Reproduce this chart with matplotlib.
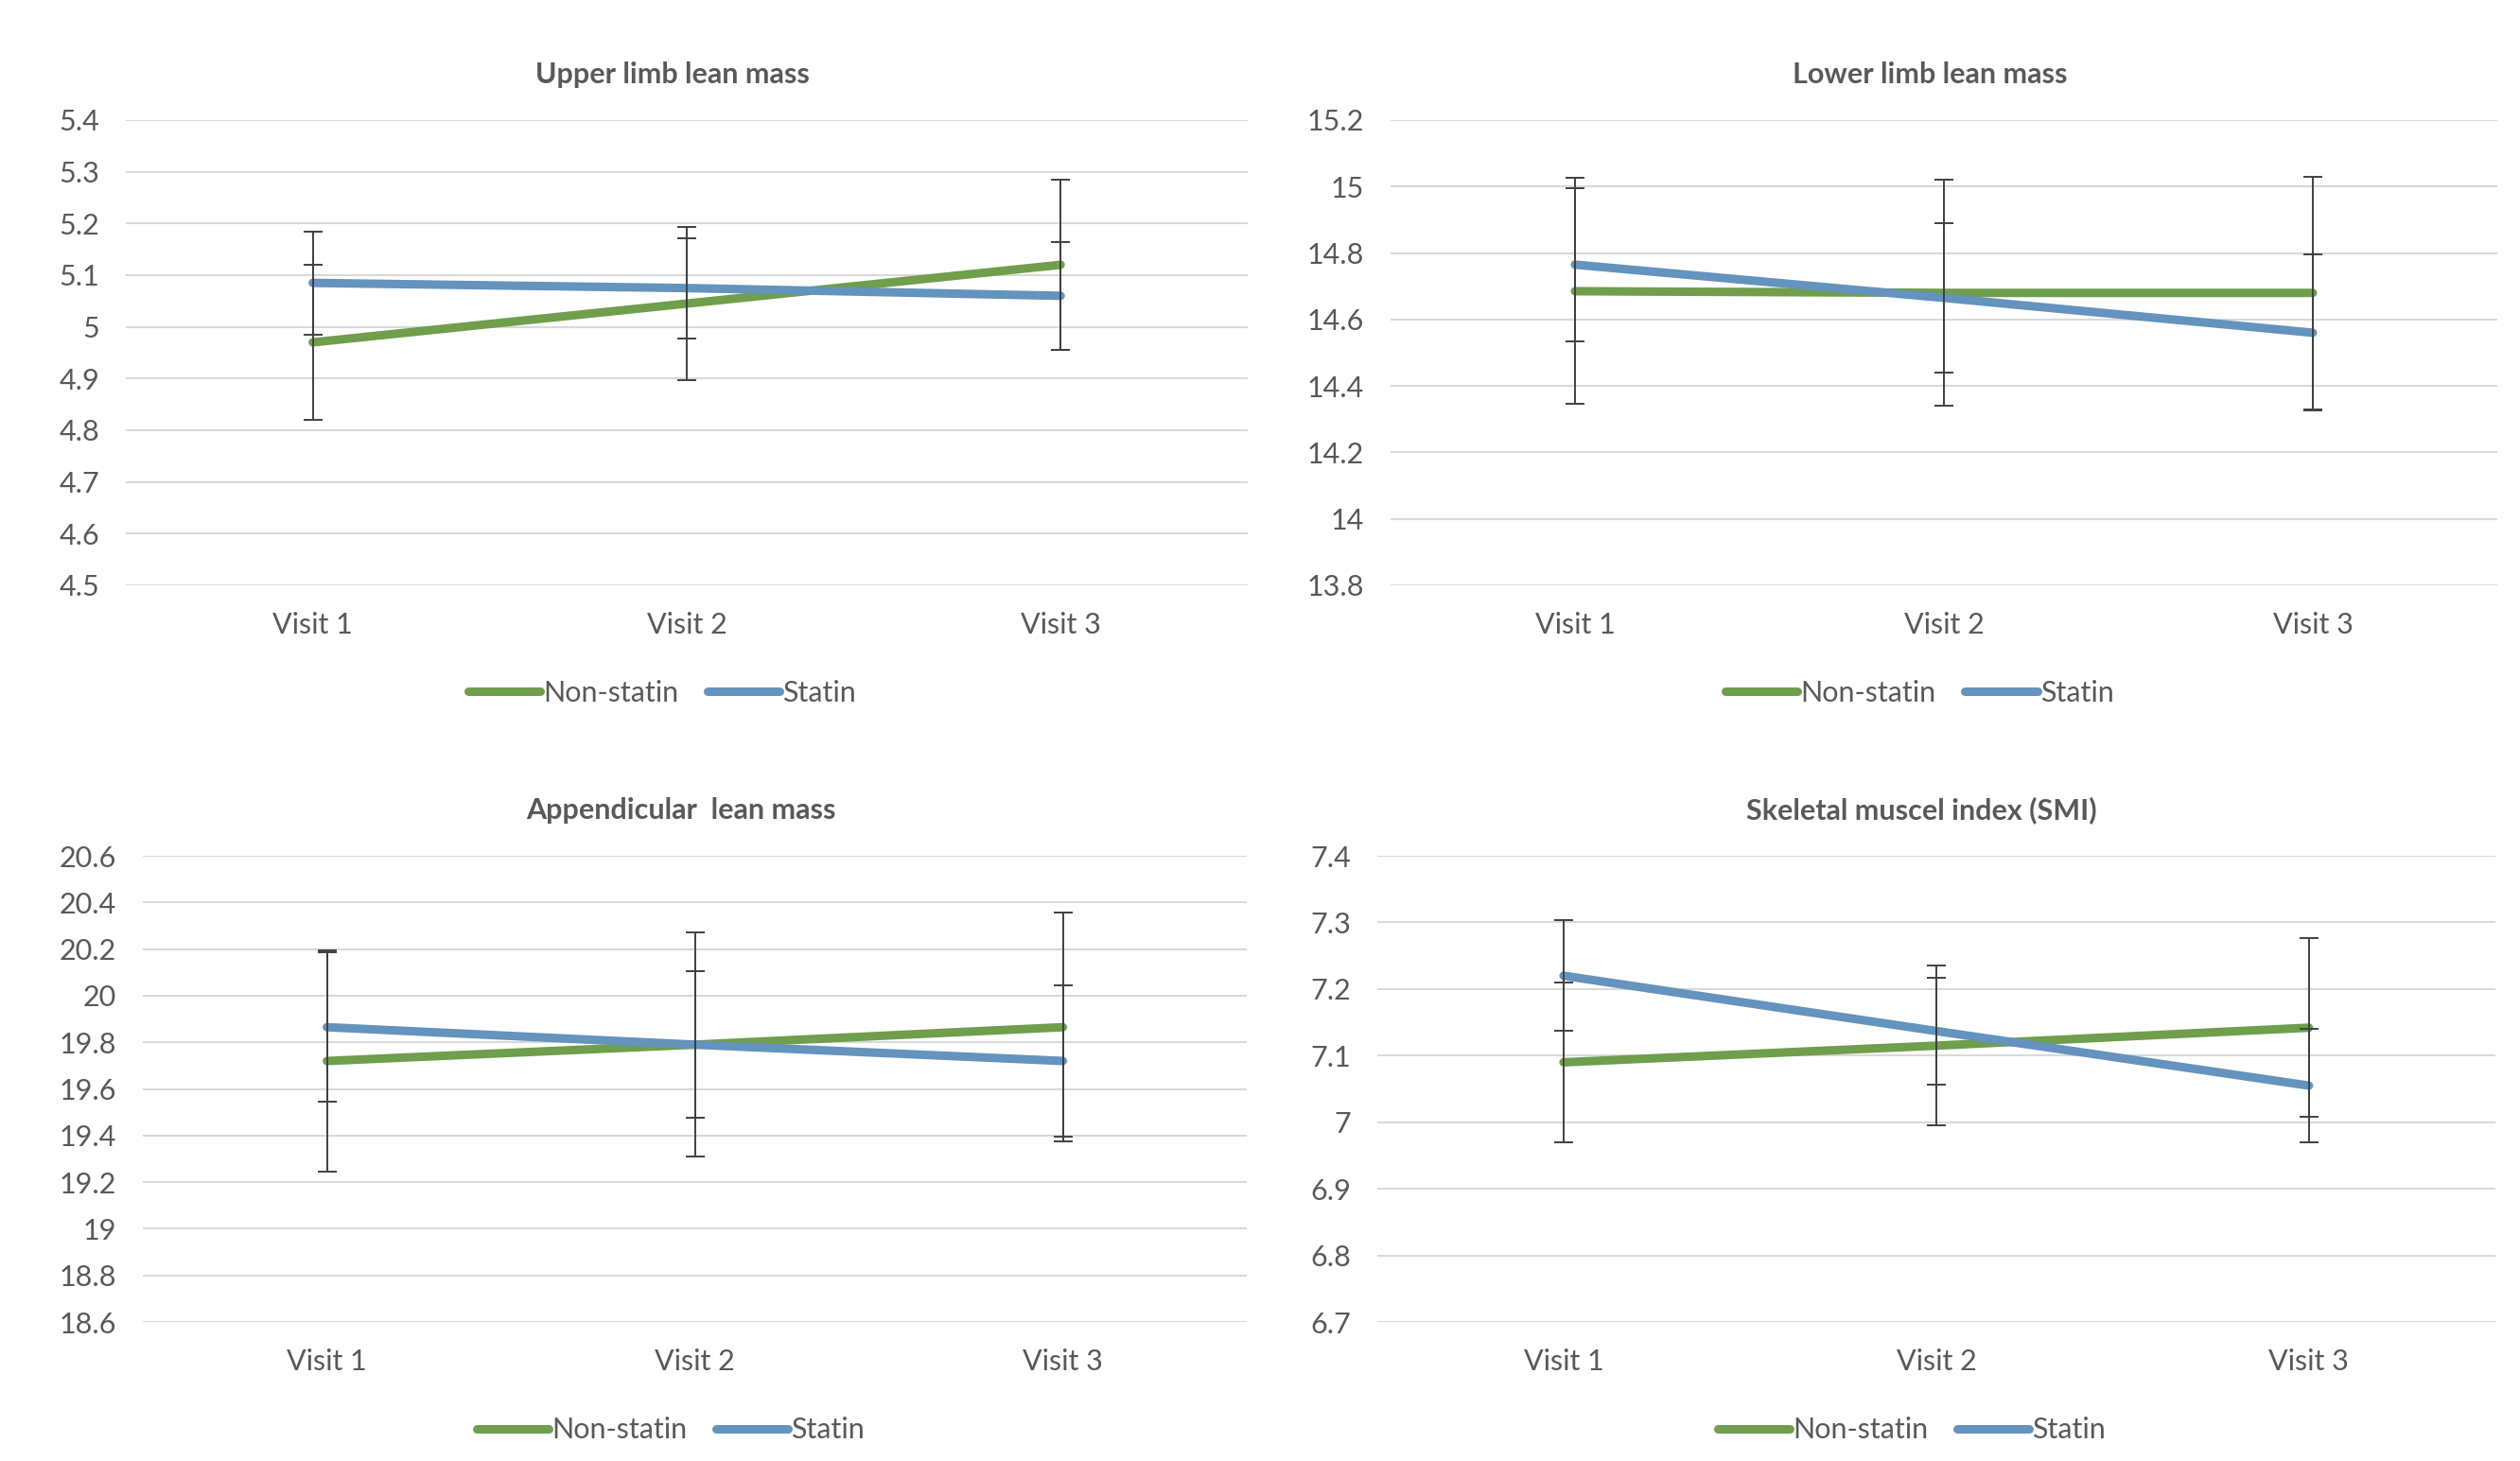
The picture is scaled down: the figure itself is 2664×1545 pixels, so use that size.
import matplotlib.pyplot as plt
import numpy as np

# data
visits = ["Visit 1", "Visit 2", "Visit 3"]
titles = ["Upper limb lean mass", "Lower limb lean mass",
          "Appendicular  lean mass", "Skeletal muscel index (SMI)"]

upper_nonstatin = [4.97, 5.045, 5.12]
upper_nonstatin_err = [0.15, 0.148, 0.165]
upper_statin = [5.085, 5.075, 5.06]
upper_statin_err = [0.10, 0.097, 0.104]

lower_nonstatin = [14.685, 14.68, 14.68]
lower_nonstatin_err = [0.34, 0.34, 0.35]
lower_statin = [14.765, 14.665, 14.56]
lower_statin_err = [0.23, 0.225, 0.235]

append_nonstatin = [19.72, 19.79, 19.865]
append_nonstatin_err = [0.475, 0.48, 0.49]
append_statin = [19.865, 19.79, 19.72]
append_statin_err = [0.32, 0.315, 0.325]

smi_nonstatin = [7.09, 7.115, 7.142]
smi_nonstatin_err = [0.12, 0.12, 0.134]
smi_statin = [7.22, 7.137, 7.055]
smi_statin_err = [0.083, 0.08, 0.085]

ylims = [(4.5, 5.4, 0.1), (13.8, 15.2, 0.2), (18.6, 20.6, 0.2), (6.7, 7.4, 0.1)]

panels = [
    (upper_nonstatin, upper_nonstatin_err, upper_statin, upper_statin_err),
    (lower_nonstatin, lower_nonstatin_err, lower_statin, lower_statin_err),
    (append_nonstatin, append_nonstatin_err, append_statin, append_statin_err),
    (smi_nonstatin, smi_nonstatin_err, smi_statin, smi_statin_err),
]

# axes boxes in figure fraction [left, bottom, width, height]
boxes = [
    [0.0499, 0.5994, 0.4452, 0.3184],
    [0.5518, 0.5994, 0.4392, 0.3184],
    [0.0567, 0.0951, 0.4381, 0.3191],
    [0.5465, 0.0951, 0.4437, 0.3191],
]

green = "#6F9E4C"
blue = "#6493BD"
textc = "#595959"

plt.rcParams["font.family"] = ["Lato", "DejaVu Sans"]

fig = plt.figure(figsize=(26.64, 15.45), dpi=100)
x = np.arange(len(visits)) + 0.5

for i in range(4):
    ns, ns_err, st, st_err = panels[i]
    lo, hi, step = ylims[i]
    ax = fig.add_axes(boxes[i])

    ax.plot(x, ns, color=green, lw=6.5, solid_capstyle="round", label="Non-statin", zorder=3)
    ax.plot(x, st, color=blue, lw=6.5, solid_capstyle="round", label="Statin", zorder=3)
    ax.errorbar(x, ns, yerr=ns_err, fmt="none", ecolor="#404040", elinewidth=1.4,
                capsize=7, capthick=1.4, zorder=4)
    ax.errorbar(x, st, yerr=st_err, fmt="none", ecolor="#404040", elinewidth=1.4,
                capsize=7, capthick=1.4, zorder=4)

    ax.set_xlim(0, 3)
    ax.set_ylim(lo, hi)
    ticks = np.round(np.arange(lo, hi + step / 2, step), 1)
    ax.set_yticks(ticks)
    ax.set_yticklabels(["{:g}".format(t) for t in ticks])
    ax.set_xticks(x)
    ax.set_xticklabels(visits)
    ax.grid(axis="y", color="#D9D9D9", lw=1.5, zorder=0)
    ax.set_axisbelow(True)
    for s in ax.spines.values():
        s.set_visible(False)
    ax.tick_params(axis="y", length=0, pad=20, labelsize=22, labelcolor=textc)
    ax.tick_params(axis="x", length=0, pad=20, labelsize=22, labelcolor=textc)

    ax.set_title(titles[i], x=0.487, pad=28, fontsize=22, fontweight="bold", color=textc)

    leg = ax.legend(loc="center", bbox_to_anchor=(0.478, -0.232), ncol=2, frameon=False,
                    fontsize=22, handlelength=2.5, handletextpad=0.1, columnspacing=1.0)
    for t in leg.get_texts():
        t.set_color(textc)

plt.savefig("out.png", dpi=100, facecolor="white")
